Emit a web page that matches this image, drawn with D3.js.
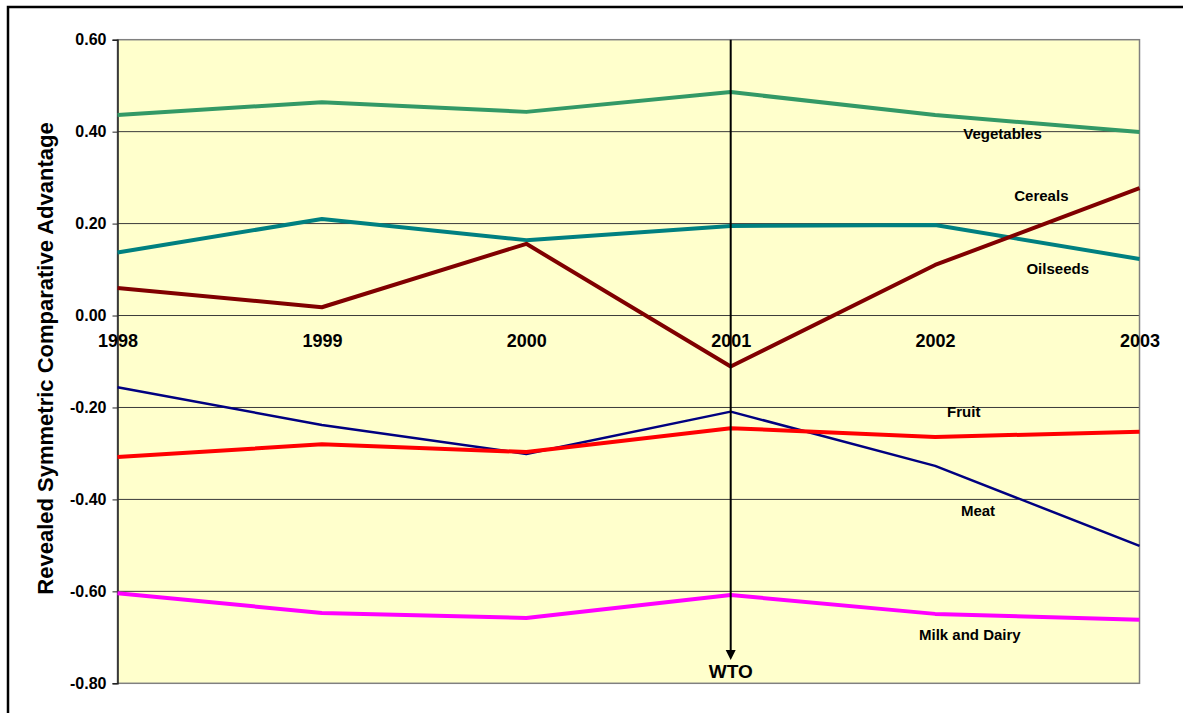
<!DOCTYPE html>
<html>
<head>
<meta charset="utf-8">
<script src="https://cdn.jsdelivr.net/npm/d3@7/dist/d3.min.js"></script>
<style>
  html, body { margin: 0; padding: 0; background: #fff; }
  svg { display: block; font-family: Arial, "Liberation Sans", sans-serif; }
</style>
</head>
<body>
<svg id="chart" width="1183" height="713"></svg>
<script>
// Revealed symmetric comparative advantage by product group, 1998-2003
const years = ["1998", "1999", "2000", "2001", "2002", "2003"];
const yTicks = [0.6, 0.4, 0.2, 0.0, -0.2, -0.4, -0.6, -0.8];

const vegetables   = [0.436, 0.464, 0.443, 0.486, 0.436, 0.399];
const oilseeds     = [0.137, 0.210, 0.164, 0.195, 0.197, 0.123];
const cereals      = [0.060, 0.018, 0.156, -0.111, 0.110, 0.277];
const meat         = [-0.156, -0.238, -0.301, -0.209, -0.327, -0.501];
const fruit        = [-0.308, -0.280, -0.297, -0.245, -0.264, -0.253];
const milkAndDairy = [-0.604, -0.647, -0.658, -0.608, -0.649, -0.662];

const seriesNames  = ["Vegetables", "Oilseeds", "Cereals", "Meat", "Fruit", "Milk and Dairy"];
const seriesValues = [vegetables, oilseeds, cereals, meat, fruit, milkAndDairy];
const seriesColors = ["#339966", "#008080", "#800000", "#000080", "#ff0000", "#ff00ff"];
const seriesWidths = [4, 4, 4, 2.5, 4, 4];

// label anchor (fractional year, value) for each series label
const labelSpots = [
  { x: 2002.33, v: 0.392 },  // Vegetables
  { x: 2002.6,  v: 0.099 },  // Oilseeds
  { x: 2002.52, v: 0.258 },  // Cereals
  { x: 2002.21, v: -0.428 }, // Meat
  { x: 2002.14, v: -0.213 }, // Fruit
  { x: 2002.17, v: -0.697 }  // Milk and Dairy
];
const wtoYear = "2001";

const svg = d3.select("#chart");
const pLeft = 117.5, pRight = 1139.5, pTop = 39.7, pBottom = 683.3;

const x = d3.scalePoint().domain(years).range([pLeft, pRight]);
const xLin = d3.scaleLinear().domain([1998, 2003]).range([pLeft, pRight]);
const y = d3.scaleLinear().domain([-0.8, 0.6]).range([pBottom, pTop]);

// tick labels use a plain hyphen for negatives
const fmt = d => (d < -1e-9 ? "-" : "") + Math.abs(d).toFixed(2);

// outer frame
svg.append("rect")
  .attr("x", 8).attr("y", 7).attr("width", 1200).attr("height", 720)
  .attr("fill", "#fff").attr("stroke", "#000").attr("stroke-width", 2.5);

// plot background
svg.append("rect")
  .attr("x", pLeft).attr("y", pTop)
  .attr("width", pRight - pLeft).attr("height", pBottom - pTop)
  .attr("fill", "#ffffcc");

// horizontal gridlines
svg.append("g").selectAll("line")
  .data(yTicks.filter(t => t > -0.8 && t < 0.6))
  .join("line")
  .attr("x1", pLeft).attr("x2", pRight)
  .attr("y1", d => y(d)).attr("y2", d => y(d))
  .attr("stroke", "#3a3a3a").attr("stroke-width", 1);

// plot border
svg.append("rect")
  .attr("x", pLeft).attr("y", pTop)
  .attr("width", pRight - pLeft).attr("height", pBottom - pTop)
  .attr("fill", "none").attr("stroke", "#808080").attr("stroke-width", 1.5);

// y axis
const yAxis = d3.axisLeft(y).tickValues(yTicks).tickFormat(fmt).tickSize(5).tickPadding(6);
const yg = svg.append("g").attr("transform", `translate(${pLeft},0)`).call(yAxis);
yg.select(".domain").attr("stroke", "#222").attr("stroke-width", 1.5);
yg.selectAll(".tick line").attr("stroke", "#222");
yg.selectAll(".tick text")
  .attr("font-size", 16).attr("font-weight", "bold").attr("fill", "#000")
  .attr("font-family", "Arial, 'Liberation Sans', sans-serif");

// x axis labels sit just below the zero line
const xAxis = d3.axisBottom(x).tickSize(0).tickPadding(19);
const xg = svg.append("g").attr("transform", `translate(0,${y(0)})`).call(xAxis);
xg.select(".domain").remove();
xg.selectAll(".tick text")
  .attr("dy", "0")
  .attr("dominant-baseline", "middle")
  .attr("font-size", 18).attr("font-weight", "bold").attr("fill", "#000")
  .attr("font-family", "Arial, 'Liberation Sans', sans-serif");
xg.selectAll(".tick text").attr("y", 27);

// y axis title
svg.append("text")
  .attr("transform", `translate(53,${(pTop + pBottom) / 2 - 3}) rotate(-90)`)
  .attr("text-anchor", "middle")
  .attr("font-size", 22).attr("font-weight", "bold")
  .text("Revealed Symmetric Comparative Advantage");

// series lines
const line = d3.line().x((d, i) => x(years[i])).y(d => y(d));
svg.append("g").selectAll("path")
  .data(seriesValues)
  .join("path")
  .attr("d", d => line(d))
  .attr("fill", "none")
  .attr("stroke", (d, i) => seriesColors[i])
  .attr("stroke-width", (d, i) => seriesWidths[i])
  .attr("stroke-linejoin", "round");

// series labels
svg.append("g").selectAll("text")
  .data(seriesNames)
  .join("text")
  .attr("x", (d, i) => xLin(labelSpots[i].x))
  .attr("y", (d, i) => y(labelSpots[i].v))
  .attr("text-anchor", "middle")
  .attr("dominant-baseline", "middle")
  .attr("font-size", 15).attr("font-weight", "bold")
  .text(d => d);

// WTO marker arrow
const wx = x(wtoYear);
const tipY = 660;
svg.append("line")
  .attr("x1", wx).attr("x2", wx).attr("y1", pTop).attr("y2", tipY - 8)
  .attr("stroke", "#000").attr("stroke-width", 2);
svg.append("path")
  .attr("d", `M${wx - 5},${tipY - 10} L${wx + 5},${tipY - 10} L${wx},${tipY} Z`)
  .attr("fill", "#000");
svg.append("text")
  .attr("x", wx).attr("y", 673)
  .attr("text-anchor", "middle").attr("dominant-baseline", "middle")
  .attr("font-size", 19).attr("font-weight", "bold")
  .text("WTO");
</script>
</body>
</html>
